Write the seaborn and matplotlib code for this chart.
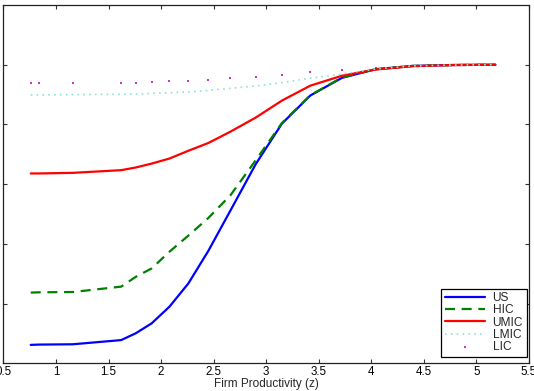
import numpy as np
import pandas as pd
import matplotlib
matplotlib.use("Agg")
from matplotlib import pyplot as plt
import seaborn as sns

# grid of firm productivity values
z = [0.76, 0.84, 1.16, 1.62, 1.76, 1.91, 2.08, 2.26, 2.45, 2.66,
     2.90, 3.15, 3.42, 3.72, 4.04, 4.39, 4.77, 5.18]

us = [0.062, 0.063, 0.064, 0.078, 0.101, 0.134, 0.190, 0.268, 0.377, 0.512,
      0.667, 0.803, 0.897, 0.956, 0.985, 0.996, 0.999, 1.0]
hic = [0.237, 0.238, 0.239, 0.257, 0.290, 0.318, 0.374, 0.428, 0.487, 0.563,
       0.680, 0.805, 0.898, 0.957, 0.985, 0.996, 0.999, 1.0]
umic = [0.636, 0.636, 0.638, 0.647, 0.656, 0.669, 0.686, 0.712, 0.738, 0.776,
        0.823, 0.880, 0.930, 0.963, 0.984, 0.995, 0.999, 1.0]
lmic = [0.899, 0.899, 0.900, 0.901, 0.902, 0.904, 0.906, 0.909, 0.914, 0.921,
        0.929, 0.940, 0.955, 0.969, 0.986, 0.996, 0.999, 1.0]
lic = [0.939, 0.939, 0.939, 0.939, 0.939, 0.941, 0.944, 0.946, 0.950, 0.955,
       0.960, 0.967, 0.976, 0.983, 0.989, 0.996, 0.999, 1.0]

xticks = [0.5, 1, 1.5, 2, 2.5, 3, 3.5, 4, 4.5, 5, 5.5]
xticklabels = ["0.5", "1", "1.5", "2", "2.5", "3", "3.5", "4", "4.5", "5", "5.5"]
yticks = [0.2, 0.4, 0.6, 0.8, 1.0]

sns.set_style("white")
plt.rcParams["font.family"] = ["Liberation Sans", "DejaVu Sans"]

fig = plt.figure(figsize=(5.34, 3.91), dpi=100)
ax = fig.add_axes([0.0064, 0.0706, 0.9842, 0.9166])

sns.lineplot(x=z, y=us, color="#0000ff", lw=1.6, label="US", ax=ax)
sns.lineplot(x=z, y=hic, color="#008000", lw=1.6, label="HIC", ax=ax)
ax.lines[-1].set_dashes((4.5, 3))
sns.lineplot(x=z, y=umic, color="#ff0000", lw=1.6, label="UMIC", ax=ax)
sns.lineplot(x=z, y=lmic, color="#8fe3d8", lw=1.2, label="LMIC", ax=ax)
ax.lines[-1].set_dashes((1, 2.5))
sns.scatterplot(x=z, y=lic, color="#cc33cc", marker="s", s=3, linewidth=0,
                label="LIC", ax=ax)

ax.set_xlim(0.5, 5.5)
ax.set_ylim(0, 1.2)
ax.set_xticks(xticks)
ax.set_xticklabels(xticklabels)
ax.set_yticks(yticks)
ax.set_yticklabels([])
ax.tick_params(direction="in", length=3, width=0.8, labelsize=8.3,
               top=True, right=True, bottom=True, left=True, colors="#333333",
               labelcolor="black", pad=2)
for s in ax.spines.values():
    s.set_color("#222222")
    s.set_linewidth(0.9)
ax.set_xlabel("Firm Productivity (z)", fontsize=8.5, labelpad=0)
ax.set_ylabel("")

leg = ax.legend(loc="lower right", bbox_to_anchor=(0.9956, 0.0187),
                fontsize=8.6, frameon=True, fancybox=False,
                edgecolor="black", framealpha=1, borderaxespad=0,
                handlelength=3.4, labelspacing=0.02, borderpad=0.3,
                handletextpad=0.6, markerscale=1)
leg.get_frame().set_linewidth(0.9)

fig.savefig("out.png", dpi=100)
